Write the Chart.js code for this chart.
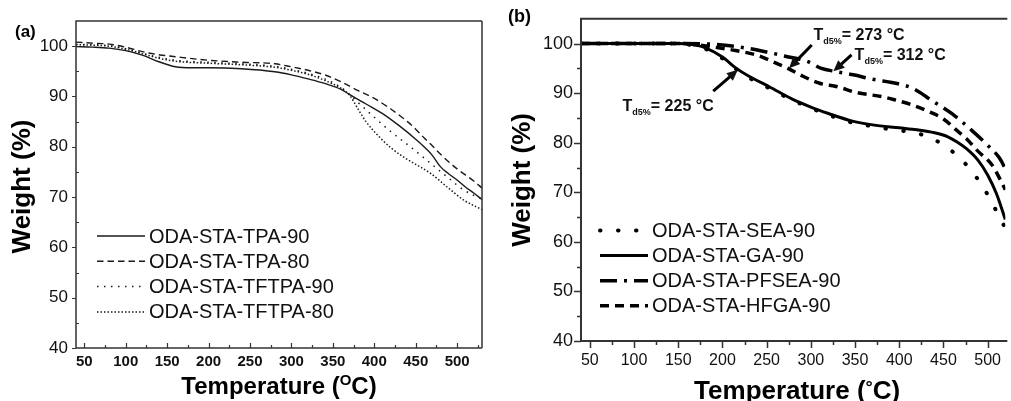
<!DOCTYPE html>
<html><head><meta charset="utf-8">
<script src="https://cdn.jsdelivr.net/npm/chart.js@4/dist/chart.umd.min.js"></script>
<style>
html,body{margin:0;padding:0;background:#fff;overflow:hidden;}
#wrap{position:relative;width:1011px;height:401px;overflow:hidden;}
#ca{position:absolute;left:0;top:0;width:505px;height:401px;}
#cb{position:absolute;left:505px;top:0;width:506px;height:401px;}
</style></head><body>
<div id="wrap"><canvas id="ca" width="505" height="401"></canvas><canvas id="cb" width="506" height="401"></canvas></div>
<script>
const FONT = "'Liberation Sans', Arial, Helvetica, sans-serif";

// ---------- Panel (a) ----------
const aTicksX = [50,100,150,200,250,300,350,400,450,500];
const aMinorX = [75,125,175,225,275,325,375,425,475,525];
const aTicksY = [40,50,60,70,80,90,100];
const aMinorY = [45,55,65,75,85,95];
const aNames = ['ODA-STA-TPA-90','ODA-STA-TPA-80','ODA-STA-TFTPA-90','ODA-STA-TFTPA-80'];

const tpa90T = [40,60,80,100,120,140,160,180,200,240,280,300,320,340,360,370,390,410,430,450,460,470,480,490,500,510,520,530];
const tpa90W = [99.9,99.8,99.6,99.1,98.2,96.9,95.9,95.7,95.7,95.5,94.9,94.3,93.5,92.6,91.4,90.4,88.5,86.6,84.2,81.5,80.0,78.3,76.0,74.6,73.4,72.0,70.8,69.5];

const tpa80T = [40,60,80,100,120,140,160,200,240,280,300,320,340,360,380,400,420,440,450,460,470,480,500,520,530];
const tpa80W = [100.8,100.6,100.4,99.8,98.9,98.3,97.9,97.2,96.8,96.5,95.9,95.2,94.3,92.9,91.2,89.6,87.5,85.0,83.5,81.8,80.2,78.5,75.6,73.2,71.8];

const tftpa90T = [40,80,100,120,140,160,200,240,280,300,320,340,360,370,383,395,420,445,468,488,508,530];
const tftpa90W = [100.4,100.1,99.5,98.6,97.8,97.2,96.8,96.5,96.0,95.4,94.6,93.5,91.8,90.4,88.4,86.6,83.0,79.8,76.7,74.0,71.4,69.6];

const tftpa80T = [40,80,100,120,140,160,200,240,280,300,320,340,360,370,380,390,407,420,435,450,468,488,508,530];
const tftpa80W = [100.3,100.0,99.4,98.5,97.6,97.0,96.6,96.3,95.8,95.2,94.4,93.2,91.6,90.3,87.6,85.0,81.8,79.8,78.0,76.5,74.7,72.0,69.4,67.5];

// ---------- Panel (b) ----------
const bTicksX = [50,100,150,200,250,300,350,400,450,500];
const bMinorX = [75,125,175,225,275,325,375,425,475];
const bTicksY = [40,50,60,70,80,90,100];
const bMinorY = [45,55,65,75,85,95];
const bNames = ['ODA-STA-SEA-90','ODA-STA-GA-90','ODA-STA-PFSEA-90','ODA-STA-HFGA-90'];

const seaT = [40,100,150,165,180,200,215,230,253,279,300,320,346,370,390,411,431,452,472,489,502,513,520];
const seaW = [100,100,100,99.7,99.0,97.0,94.9,93.1,91.0,88.6,87.0,85.6,84.1,83.3,82.7,82.2,81.3,79.3,76.3,72.6,68.9,65.1,62.8];

const gaT = [40,100,150,165,180,200,215,230,253,279,300,320,346,370,400,420,440,455,465,476,489,500,510,520];
const gaW = [100,100,100,99.8,99.2,97.3,95.1,93.4,91.3,88.8,87.2,85.9,84.4,83.6,83.0,82.6,82.0,81.2,80.2,78.8,76.5,73.5,69.7,64.5];

const pfseaT = [40,100,150,185,206,230,250,270,296,312,327,348,370,396,415,437,460,482,500,513,520];
const pfseaW = [100,100,100,99.9,99.6,99.0,98.3,97.5,96.4,95.0,94.4,93.7,92.8,92.0,91.0,88.5,85.8,82.5,79.5,77.0,74.8];

const hfgaT = [40,100,150,170,190,215,240,260,273,290,310,330,350,383,396,415,433,450,463,476,489,505,515,520];
const hfgaW = [100,100,100,99.8,99.3,98.6,97.6,96.1,95.1,93.5,92.0,91.3,90.2,89.2,88.6,87.6,86.3,84.8,82.8,80.8,78.3,75.5,72.3,70.5];

// annotation labels (panel b): value text, label anchor (T, W), arrow from (T, W) to (T, W)
const noteTexts = ['= 225 °C','= 273 °C','= 312 °C'];
const noteAt = [[87,86.3],[303,100.8],[349.5,96.7]];
const noteFrom = [[189.6,90.4],[301,99.7],[346,97.7]];
const noteTo = [[217.5,94.7],[275.3,95.0],[325.5,94.4]];

const pts = (T, W) => T.map((t, i) => ({x: t, y: W[i]}));

const deco = {
  id: 'deco',
  afterDraw(chart, args, o) {
    const {ctx, chartArea: a, scales: {x, y}} = chart;
    ctx.save();
    // frame
    ctx.strokeStyle = o.frameColor; ctx.lineWidth = o.frameWidth; ctx.setLineDash([]);
    ctx.beginPath();
    ctx.moveTo(a.right + (o.rightFrame ? 0 : 2), a.top); ctx.lineTo(a.left, a.top); ctx.lineTo(a.left, a.bottom); ctx.lineTo(a.right + (o.rightFrame ? 0 : 2), a.bottom);
    if (o.rightFrame) { ctx.moveTo(a.right, a.top); ctx.lineTo(a.right, a.bottom); }
    ctx.stroke();
    // tick marks (positive = outward)
    const tk = o.tickMarks;
    ctx.lineWidth = tk.width;
    ctx.beginPath();
    const xt = (vals, len) => vals.forEach(v => { const p = Math.round(x.getPixelForValue(v)) + 0.5; ctx.moveTo(p, a.bottom); ctx.lineTo(p, a.bottom + len); });
    const yt = (vals, len) => vals.forEach(v => { const p = Math.round(y.getPixelForValue(v)) + 0.5; ctx.moveTo(a.left, p); ctx.lineTo(a.left - len, p); });
    xt(tk.xMajor, tk.xMajorLen); xt(tk.xMinor, tk.xMinorLen);
    yt(tk.yMajor, tk.yMajorLen); yt(tk.yMinor, tk.yMinorLen);
    ctx.stroke();

    ctx.fillStyle = '#000';
    // y title
    ctx.save();
    ctx.font = `bold ${o.yTitle.size}px ${FONT}`;
    ctx.translate(o.yTitle.x, (a.top + a.bottom) / 2 + o.yTitle.dy);
    ctx.rotate(-Math.PI / 2);
    ctx.textAlign = 'center'; ctx.textBaseline = 'alphabetic';
    ctx.fillText(o.yTitle.text, 0, 0);
    ctx.restore();
    // x title (with optional superscript pieces)
    ctx.textAlign = 'left'; ctx.textBaseline = 'alphabetic';
    let tw = 0;
    o.xTitle.parts.forEach(p => { ctx.font = `bold ${p.size}px ${FONT}`; p.w = ctx.measureText(p.t).width; tw += p.w; });
    let cx = (a.left + a.right) / 2 + o.xTitle.dx - tw / 2;
    o.xTitle.parts.forEach(p => { ctx.font = `bold ${p.size}px ${FONT}`; ctx.fillText(p.t, cx, o.xTitle.y - (p.rise || 0)); cx += p.w; });
    // panel tag
    ctx.font = `bold ${o.tag.size}px ${FONT}`;
    ctx.fillText(o.tag.text, o.tag.x, o.tag.y);
    // legend
    const L = o.legend;
    chart.data.datasets.forEach((ds, i) => {
      const yy = L.y0 + i * L.dy;
      ctx.save();
      ctx.strokeStyle = ds.borderColor; ctx.lineWidth = ds.borderWidth;
      ctx.lineCap = ds.borderCapStyle || 'butt';
      ctx.setLineDash(ds.borderDash || []);
      ctx.beginPath(); ctx.moveTo(L.x1, yy); ctx.lineTo(L.x2, yy); ctx.stroke();
      ctx.restore();
      ctx.font = `${L.size}px ${FONT}`; ctx.fillStyle = '#111';
      ctx.textBaseline = 'middle';
      ctx.fillText(ds.label, L.tx, yy + 1);
    });
    ctx.textBaseline = 'alphabetic';
    // annotations
    (o.notes || []).forEach(n => {
      const x1 = x.getPixelForValue(n.from[0]), y1 = y.getPixelForValue(n.from[1]);
      const x2 = x.getPixelForValue(n.to[0]), y2 = y.getPixelForValue(n.to[1]);
      const ang = Math.atan2(y2 - y1, x2 - x1), c = Math.cos(ang), s = Math.sin(ang);
      const head = 11, hw = 5;
      ctx.strokeStyle = '#000'; ctx.lineWidth = 3; ctx.setLineDash([]); ctx.lineCap = 'butt';
      ctx.beginPath(); ctx.moveTo(x1, y1); ctx.lineTo(x2 - head * c * 0.7, y2 - head * s * 0.7); ctx.stroke();
      ctx.beginPath(); ctx.moveTo(x2, y2);
      ctx.lineTo(x2 - head * c + hw * s, y2 - head * s - hw * c);
      ctx.lineTo(x2 - head * c - hw * s, y2 - head * s + hw * c);
      ctx.closePath(); ctx.fill();
      let tx = x.getPixelForValue(n.at[0]); const ty = y.getPixelForValue(n.at[1]);
      ctx.font = `bold 16px ${FONT}`; ctx.fillText('T', tx, ty); tx += ctx.measureText('T').width;
      ctx.font = `bold 9px ${FONT}`; ctx.fillText('d5%', tx, ty + 4); tx += ctx.measureText('d5%').width;
      ctx.font = `bold 16px ${FONT}`; ctx.fillText(n.text, tx, ty);
    });
    ctx.restore();
  }
};

function makeScales(cfg) {
  return {
    x: {
      type: 'linear', min: cfg.xmin, max: cfg.xmax,
      afterBuildTicks: s => { s.ticks = cfg.xTicks.map(v => ({value: v})); },
      afterFit: s => { s.height = cfg.xh; },
      grid: {display: false, drawTicks: false}, border: {display: false},
      ticks: {font: {family: FONT, size: cfg.xFont, weight: cfg.xWeight}, color: '#111', padding: cfg.xPad, maxRotation: 0, autoSkip: false}
    },
    y: {
      type: 'linear', min: 40, max: 105,
      afterBuildTicks: s => { s.ticks = cfg.yTicks.map(v => ({value: v})); },
      afterFit: s => { s.width = cfg.yw; },
      grid: {display: false, drawTicks: false}, border: {display: false},
      ticks: {font: {family: FONT, size: cfg.yFont}, color: '#111', padding: cfg.yPad, autoSkip: false}
    }
  };
}

const lineDs = (label, data, w, dash, cap, color) => ({
  label, data, borderColor: color, borderWidth: w, borderDash: dash, borderCapStyle: cap,
  pointRadius: 0, fill: false, cubicInterpolationMode: 'monotone'
});

new Chart(document.getElementById('ca'), {
  type: 'line',
  data: {datasets: [
    lineDs(aNames[0], pts(tpa90T, tpa90W), 1.4, [], 'butt', '#1a1a1a'),
    lineDs(aNames[1], pts(tpa80T, tpa80W), 1.4, [6.5, 4], 'butt', '#1a1a1a'),
    lineDs(aNames[2], pts(tftpa90T, tftpa90W), 1.5, [1.5, 5.5], 'butt', '#1a1a1a'),
    lineDs(aNames[3], pts(tftpa80T, tftpa80W), 1.5, [1.5, 2], 'butt', '#1a1a1a')
  ]},
  options: {
    responsive: false, animation: false, devicePixelRatio: 1, events: [],
    layout: {padding: {top: 21, right: 23, left: 0, bottom: 0}},
    scales: makeScales({xmin: 40, xmax: 530, xTicks: aTicksX, yTicks: aTicksY, xh: 53, yw: 76, xFont: 15, xWeight: 'bold', yFont: 17, xPad: 5, yPad: 8}),
    plugins: {
      legend: {display: false}, tooltip: {enabled: false},
      deco: {
        frameColor: '#333', frameWidth: 1.5, rightFrame: true,
        tickMarks: {width: 1.2, xMajor: aTicksX, xMinor: aMinorX, yMajor: aTicksY, yMinor: aMinorY, xMajorLen: -5, xMinorLen: -3, yMajorLen: 4, yMinorLen: -3},
        yTitle: {text: 'Weight (%)', size: 26, x: 30, dy: 2},
        xTitle: {y: 394, dx: 0, parts: [{t: 'Temperature (', size: 24}, {t: 'O', size: 15, rise: 9}, {t: 'C)', size: 24}]},
        tag: {text: '(a)', size: 17, x: 15, y: 37},
        legend: {x1: 97, x2: 145, tx: 149, y0: 236, dy: 25.3, size: 20}
      }
    }
  },
  plugins: [deco]
});

new Chart(document.getElementById('cb'), {
  type: 'line',
  data: {datasets: [
    lineDs(bNames[0], pts(seaT, seaW), 4, [0.5, 17.5], 'round', '#000'),
    lineDs(bNames[1], pts(gaT, gaW), 3, [], 'butt', '#000'),
    lineDs(bNames[2], pts(pfseaT, pfseaW), 3.5, [17, 7, 3, 7], 'butt', '#000'),
    lineDs(bNames[3], pts(hfgaT, hfgaW), 3.5, [9, 6], 'butt', '#000')
  ]},
  options: {
    responsive: false, animation: false, devicePixelRatio: 1, events: [],
    layout: {padding: {top: 17, right: 0, left: 0, bottom: 0}},
    scales: makeScales({xmin: 40, xmax: 520, xTicks: bTicksX, yTicks: bTicksY, xh: 60, yw: 76, xFont: 16, xWeight: 'normal', yFont: 18, xPad: 10, yPad: 8}),
    plugins: {
      legend: {display: false}, tooltip: {enabled: false},
      deco: {
        frameColor: '#333', frameWidth: 2, rightFrame: false,
        tickMarks: {width: 1.5, xMajor: bTicksX, xMinor: bMinorX, yMajor: bTicksY, yMinor: bMinorY, xMajorLen: 7, xMinorLen: 4, yMajorLen: 7, yMinorLen: 4},
        yTitle: {text: 'Weight (%)', size: 26, x: 25, dy: 0},
        xTitle: {y: 399, dx: 4, parts: [{t: 'Temperature (', size: 26}, {t: '°', size: 18, rise: 6}, {t: 'C)', size: 26}]},
        tag: {text: '(b)', size: 18, x: 3, y: 22},
        legend: {x1: 95, x2: 143, tx: 147, y0: 230.5, dy: 25.1, size: 20},
        notes: noteTexts.map((t, i) => ({text: t, at: noteAt[i], from: noteFrom[i], to: noteTo[i]}))
      }
    }
  },
  plugins: [deco]
});
</script>
</body></html>
